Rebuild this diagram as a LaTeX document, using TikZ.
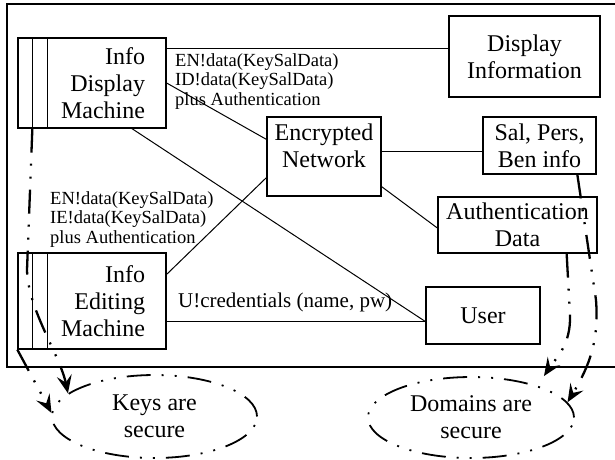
\documentclass[tikz,border=0pt]{standalone}
\usepackage{fontspec}
\setmainfont{Liberation Serif}
\usetikzlibrary{shapes.geometric,arrows.meta,calc}
\begin{document}
\begin{tikzpicture}[x=1pt,y=-1pt,
  box/.style={draw,line width=1.3pt,inner sep=0pt,align=center,font=\fontsize{24}{27}\selectfont},
  lbl/.style={inner sep=0pt,align=left,font=\fontsize{18.5}{19.5}\selectfont},
  link/.style={line width=1pt},
  ddot/.style={line width=2.3pt,dash pattern=on 24pt off 11pt on 2pt off 11pt on 2pt off 11pt},
  secarrow/.style={ddot,-{Stealth[length=18pt,width=15pt,inset=7pt]}},
  goal/.style={ellipse,draw,line width=1.8pt,dash pattern=on 24pt off 11pt on 2pt off 11pt on 2pt off 11pt,inner sep=0pt,align=center,font=\fontsize{24}{27}\selectfont}]
\useasboundingbox (0,0) rectangle (615,459);
% frame
\draw[line width=1.6pt] (616,4) -- (7,4) -- (7,367) -- (616,367);
% boxes
\node[box,minimum width=148pt,minimum height=90pt,text width=106pt,align=right] (idm) at (92,83) {Info\\Display\\Machine};
\node[box,minimum width=148pt,minimum height=96pt,text width=106pt,align=right] (iem) at (92,301) {Info\\Editing\\Machine};
\draw[line width=1.3pt] ($(idm.north west)+(15,0)$) -- ($(idm.south west)+(15,0)$);
\draw[line width=1.3pt] ($(idm.north west)+(30,0)$) -- ($(idm.south west)+(30,0)$);
\draw[line width=1.3pt] ($(iem.north west)+(15,0)$) -- ($(iem.south west)+(15,0)$);
\draw[line width=1.3pt] ($(iem.north west)+(30,0)$) -- ($(iem.south west)+(30,0)$);
\node[box,minimum width=151pt,minimum height=81pt] (disp) at (524.5,56.5) {Display\\Information};
\node[box,minimum width=114pt,minimum height=79pt] (en) at (324,156.5) {Encrypted\\Network\rule[-21pt]{0pt}{1pt}};
\node[box,minimum width=113pt,minimum height=57pt] (sal) at (539.5,145.5) {Sal, Pers,\\Ben info};
\node[box,minimum width=159pt,minimum height=56pt] (auth) at (517.5,225) {Authentication\\Data};
\node[box,minimum width=114pt,minimum height=57pt] (user) at (483,315.5) {User};
\node[goal,minimum width=205pt,minimum height=83pt] (keys) at (154.5,416.5) {Keys are\\secure};
\node[goal,minimum width=206pt,minimum height=81pt] (dom) at (471,417.5) {Domains are\\secure};
% labels (base = baseline of last line)
\node[lbl,anchor=base west] (l1) at (175,105) {EN!data(KeySalData)\\ID!data(KeySalData)\\plus Authentication};
\node[lbl,anchor=base west] (l2) at (50,243) {EN!data(KeySalData)\\IE!data(KeySalData)\\plus Authentication};
\node[inner sep=0pt,anchor=base west,font=\fontsize{21}{24}\selectfont] (l3) at (178,307) {U!credentials (name, pw)};
% connectors
\coordinate (u1) at ($(user.west)+(0,6)$);
\coordinate (s1) at ($(sal.west)+(0,6)$);
\draw[link] ($(idm.north east)+(0,11)$) -- ($(disp.north west)+(0,33)$);
\draw[link] (idm.east) -- ($(en.north west)+(0,23)$);
\draw[link] ($(idm.south)+(40,0)$) -- (u1);
\draw[link] ($(iem.north east)+(0,22)$) -- ($(en.south west)+(0,-19)$);
\draw[link] (iem.east |- u1) -- (u1);
\draw[link] (en.east |- s1) -- (s1);
\draw[link] ($(en.south east)+(0,-10)$) -- ($(auth.west)+(0,3)$);
% security arrows
\coordinate (dtop) at ($(dom.22)+(0,-12)$);
\draw[secarrow] ($(idm.south west)+(15,0)$) -- (27,270) .. controls (28,310) and (60,355) .. (keys.165);
\draw[secarrow] (iem.south west) -- (keys.178);
\draw[secarrow] ($(auth.south east)+(-31,0)$) -- (570,315) .. controls (571,345) and (556,358) .. (dtop);
\draw[secarrow] ($(sal.south west)+(95,0)$) -- (596,300) .. controls (599,340) and (590,365) .. (dom.9);
\end{tikzpicture}
\end{document}
